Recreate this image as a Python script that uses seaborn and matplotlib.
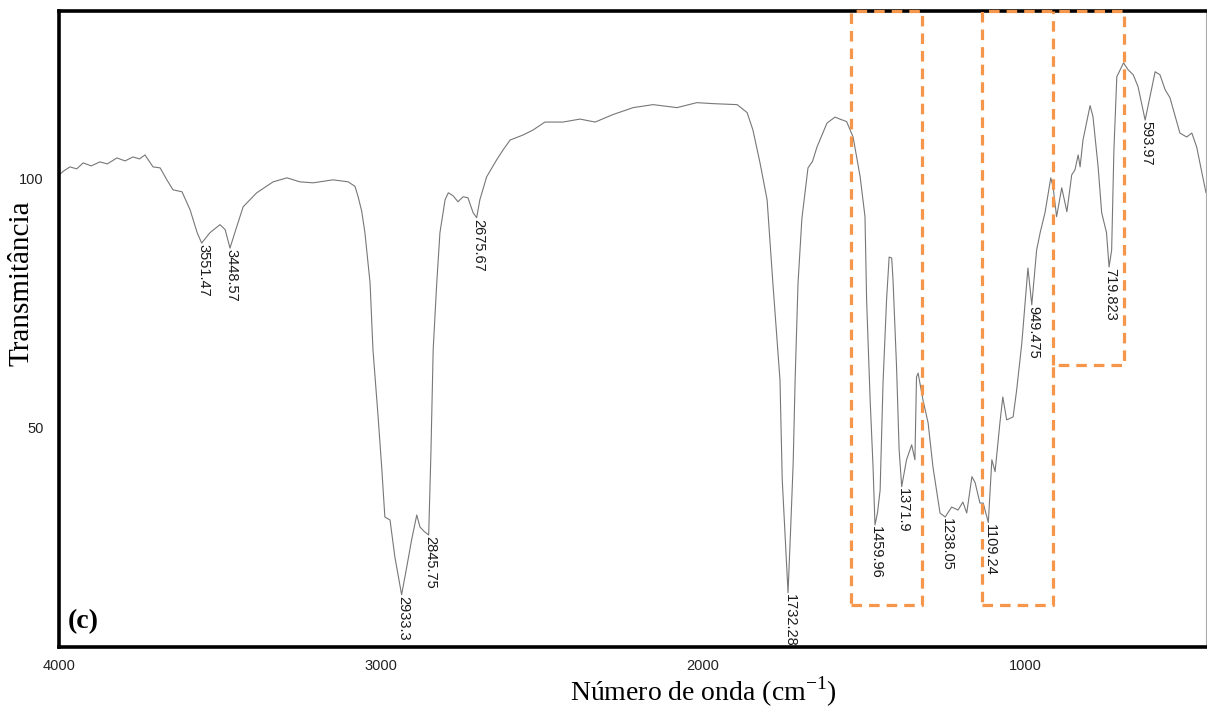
import numpy as np
import pandas as pd
import matplotlib
matplotlib.use("Agg")
import matplotlib.pyplot as plt
import seaborn as sns

# ---------------- data ----------------
wavenumber = [
    4000, 3985, 3966, 3945, 3925, 3900, 3873, 3850, 3820, 3795, 3770, 3750, 3733,
    3708, 3686, 3665, 3646, 3618, 3593, 3571, 3557, 3531, 3500, 3484, 3469,
    3448, 3428, 3386, 3335, 3292, 3252, 3211, 3149, 3102, 3081, 3071, 3060,
    3050, 3034, 3025, 3009, 2998, 2988, 2972, 2957, 2936, 2920, 2905, 2889,
    2879, 2866, 2852, 2845, 2838, 2827, 2817, 2801, 2791, 2776, 2761, 2745,
    2730, 2714, 2703, 2693, 2672, 2641, 2621, 2599, 2559, 2528, 2491, 2435,
    2382, 2335, 2280, 2217, 2155, 2081, 2019, 1969, 1894, 1863, 1845, 1823,
    1801, 1783, 1761, 1754, 1746, 1736, 1728, 1720, 1714, 1705, 1693, 1680,
    1674, 1660, 1646, 1615, 1590, 1575, 1554, 1534, 1512, 1497, 1492, 1481,
    1472, 1466, 1458, 1450, 1441, 1430, 1422, 1414, 1410, 1399, 1391, 1383,
    1368, 1352, 1342, 1337, 1332, 1317, 1301, 1286, 1264, 1248, 1228, 1208,
    1193, 1181, 1165, 1155, 1140, 1130, 1114, 1103, 1093, 1078, 1069, 1057,
    1037, 1026, 1010, 995, 991, 979, 964, 953, 938, 920, 913, 902, 886, 870,
    855, 845, 835, 829, 820, 798, 789, 773, 762, 747, 739, 731, 724, 715,
    694, 680, 664, 649, 627, 612, 596, 581, 565, 550, 519, 498, 482, 467, 438,
]
transmittance = [
    100.8, 101.6, 102.4, 102.0, 103.2, 102.6, 103.4, 103.0, 104.2, 103.6, 104.4, 104.0, 104.8,
    102.4, 102.2, 99.8, 97.8, 97.4, 93.8, 89.2, 87.1, 89.2, 90.8, 89.8, 86.1,
    90.4, 94.4, 97.2, 99.4, 100.2, 99.4, 99.2, 99.8, 99.4, 98.5, 96.4, 93.5,
    89.2, 79.1, 65.7, 52.2, 42.2, 32.1, 31.5, 24.1, 16.5, 22.1, 27.5, 32.5,
    30.1, 29.2, 28.5, 45.0, 65.7, 79.0, 89.2, 95.8, 97.2, 96.6, 95.4, 96.4,
    96.2, 93.2, 92.2, 95.8, 100.4, 103.8, 105.8, 107.8, 108.8, 109.8, 111.4, 111.4,
    112.0, 111.4, 112.9, 114.3, 114.9, 114.3, 115.3, 115.1, 114.9, 113.3, 109.8, 103.2,
    95.8, 79.0, 59.6, 39.6, 29.5, 16.9, 29.5, 43.0, 59.6, 79.0, 92.0, 99.0,
    102.2, 103.5, 106.4, 111.2, 112.4, 112.0, 111.5, 108.4, 100.4, 92.4, 75.7, 55.6,
    42.2, 30.5, 33.0, 37.5, 59.0, 75.7, 84.3, 84.1, 79.7, 62.3, 45.6, 38.2,
    43.6, 46.6, 43.6, 60.2, 61.0, 55.6, 51.0, 42.2, 32.9, 32.1, 34.1, 33.5,
    35.1, 32.9, 40.2, 39.0, 34.9, 34.9, 31.0, 43.6, 41.2, 51.0, 56.2, 51.6,
    52.2, 57.6, 67.0, 79.1, 82.1, 74.7, 85.7, 89.2, 93.2, 100.2, 98.4, 92.4, 98.2, 93.4,
    100.8, 101.8, 104.8, 102.4, 107.8, 114.7, 112.5, 102.4, 93.2, 89.2, 82.3, 85.7, 105.8, 120.5,
    123.3, 121.9, 120.9, 118.5, 111.8, 116.5, 121.5, 120.9, 117.9, 116.3, 109.2, 108.4, 109.2, 106.4, 97.2,
]

peak_labels = ["3551.47", "3448.57", "2933.3", "2845.75", "2675.67", "1732.28",
               "1459.96", "1371.9", "1238.05", "1109.24", "949.475", "719.823", "593.97"]
peak_positions = [3557, 3469, 2936, 2852, 2703, 1736, 1466, 1383, 1248, 1114, 979, 739, 627]

x_ticks = [4000, 3000, 2000, 1000]
y_ticks = [50, 100]

# highlight outlines (wavenumber, transmittance vertices)
box1_x = [1540, 1320, 1320, 1540, 1540]
box1_y = [14.5, 14.5, 133.7, 133.7, 14.5]
box2_x = [1134, 913, 913, 693, 693, 1134, 1134]
box2_y = [14.5, 14.5, 62.7, 62.7, 133.7, 133.7, 14.5]
divider_x = [913, 913]
divider_y = [62.7, 133.7]

df = pd.DataFrame({"wn": wavenumber, "T": transmittance})

# ---------------- plot ----------------
sns.set_theme(style="white")
plt.rcParams["font.family"] = ["Liberation Sans", "DejaVu Sans"]
plt.rcParams["mathtext.fontset"] = "custom"
plt.rcParams["mathtext.rm"] = "Liberation Serif"

fig = plt.figure(figsize=(12.07, 7.11), dpi=100)
ax = fig.add_axes([59 / 1207, 64 / 711, 1147 / 1207, 636 / 711])

sns.lineplot(data=df, x="wn", y="T", ax=ax, color="#777777", linewidth=0.8,
             estimator=None, sort=False)

ax.set_xlim(4000, 438)
ax.set_ylim(6.0, 133.7)

ax.set_xticks(x_ticks)
ax.set_xticklabels([str(t) for t in x_ticks])
ax.set_yticks(y_ticks)
ax.set_yticklabels([str(t) for t in y_ticks])
ax.tick_params(axis="x", direction="out", length=6, width=0.8, color="#bbbbbb",
               pad=3, labelsize=10.5, labelcolor="#222222")
ax.tick_params(axis="y", direction="out", length=7, width=2, color="black",
               pad=4, labelsize=10.5, labelcolor="#222222")

for side in ["left", "bottom", "top"]:
    ax.spines[side].set_visible(True)
    ax.spines[side].set_color("black")
    ax.spines[side].set_linewidth(2.6)
ax.spines["right"].set_visible(True)
ax.spines["right"].set_color("#aaaaaa")
ax.spines["right"].set_linewidth(0.8)

ax.set_xlabel("Número de onda (cm$^{\\mathregular{-1}}$)", family="Liberation Serif",
              fontsize=20, color="black")
ax.xaxis.set_label_coords(0.5615, -0.043)
ax.set_ylabel("Transmitância", family="Liberation Serif", fontsize=21, color="black")
ax.yaxis.set_label_coords(-0.021, 0.572)

# peak labels
for lab, pos in zip(peak_labels, peak_positions):
    yv = float(np.interp(pos, wavenumber[::-1], transmittance[::-1]))
    ax.annotate(lab, xy=(pos, yv), xytext=(1, -1), textcoords="offset points",
                rotation=-90, ha="center", va="top", fontsize=10.5,
                color="#1a1a1a", family="Liberation Sans")

# dashed orange outlines
dash = (0, (3.3, 2.2))
for bx, by in [(box1_x, box1_y), (box2_x, box2_y), (divider_x, divider_y)]:
    ax.plot(bx, by, color="#F5964A", linewidth=2.3, linestyle=dash,
            clip_on=False, zorder=5)

ax.text(0.008, 0.040, "(c)", transform=ax.transAxes, fontsize=20,
        fontweight="bold", family="Liberation Serif", ha="left", va="center",
        color="black")

fig.savefig("out.png", dpi=100, facecolor="white")
